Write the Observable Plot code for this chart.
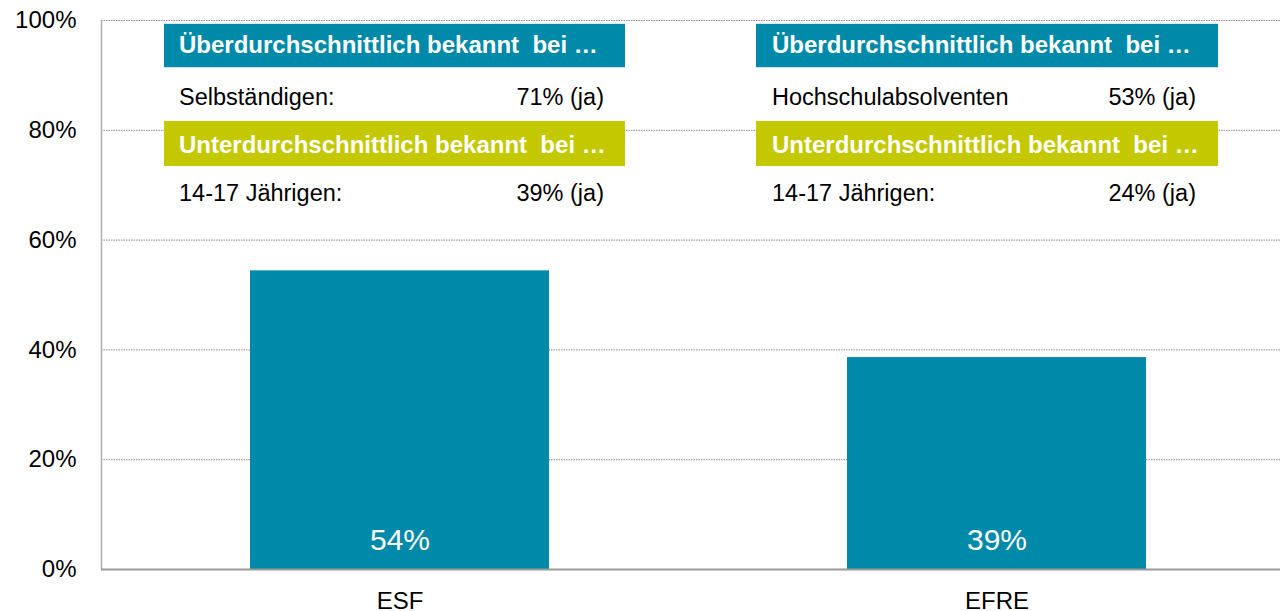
<!DOCTYPE html>
<html>
<head>
<meta charset="utf-8">
<script src="https://cdn.jsdelivr.net/npm/d3@7"></script>
<script src="https://cdn.jsdelivr.net/npm/@observablehq/plot@0.6"></script>
<style>
  html, body { margin: 0; padding: 0; background: #fff; }
  svg text { white-space: pre; }
</style>
</head>
<body>
<div id="chart"></div>
<script>
// ---- data ----
const categories = ["ESF", "EFRE"];
const shares = [54.4, 38.6];
const aboveHeader = "Überdurchschnittlich bekannt  bei …";
const belowHeader = "Unterdurchschnittlich bekannt  bei …";
const aboveGroups = ["Selbständigen:", "Hochschulabsolventen"];
const aboveShares = [71, 53];
const belowGroups = ["14-17 Jährigen:", "14-17 Jährigen:"];
const belowShares = [39, 24];
const yTicks = [0, 20, 40, 60, 80, 100];

// ---- styling / layout ----
const teal = "#0089a8";
const lime = "#c3c800";
const font = "'Liberation Sans', Arial, sans-serif";
// annotation panel layout in y-scale units, offsets in px relative to the bar band
const panel = {
  aboveBox: [91.4, 99.3], aboveHead: 95.4, aboveRow: 86.0,
  belowBox: [73.4, 81.6], belowHead: 77.3, belowRow: 68.5
};
const offsets = {
  ESF:  {insetLeft: -86, insetRight: -76, dxStart: -221, dxEnd: 204},
  EFRE: {insetLeft: -91, insetRight: -72, dxStart: -225, dxEnd: 199}
};

const rows = categories.map((cat, i) => ({
  cat, value: shares[i],
  aboveGroup: aboveGroups[i], aboveShare: aboveShares[i],
  belowGroup: belowGroups[i], belowShare: belowShares[i]
}));

const panelMarks = categories.flatMap(cat => {
  const o = offsets[cat];
  const only = d => d.cat === cat;
  return [
    Plot.barY(rows, {filter: only, x: "cat", y1: () => panel.aboveBox[0], y2: () => panel.aboveBox[1],
      fill: teal, insetLeft: o.insetLeft, insetRight: o.insetRight}),
    Plot.barY(rows, {filter: only, x: "cat", y1: () => panel.belowBox[0], y2: () => panel.belowBox[1],
      fill: lime, insetLeft: o.insetLeft, insetRight: o.insetRight}),
    Plot.text(rows, {filter: only, x: "cat", y: () => panel.aboveHead, text: () => aboveHeader,
      dx: o.dxStart, textAnchor: "start", fill: "white", fontWeight: "bold", fontSize: 24}),
    Plot.text(rows, {filter: only, x: "cat", y: () => panel.belowHead, text: () => belowHeader,
      dx: o.dxStart, textAnchor: "start", fill: "white", fontWeight: "bold", fontSize: 24}),
    Plot.text(rows, {filter: only, x: "cat", y: () => panel.aboveRow, text: "aboveGroup",
      dx: o.dxStart, textAnchor: "start", fill: "black", fontSize: 23.5}),
    Plot.text(rows, {filter: only, x: "cat", y: () => panel.aboveRow, text: d => d.aboveShare + "% (ja)",
      dx: o.dxEnd, textAnchor: "end", fill: "black", fontSize: 23.5}),
    Plot.text(rows, {filter: only, x: "cat", y: () => panel.belowRow, text: "belowGroup",
      dx: o.dxStart, textAnchor: "start", fill: "black", fontSize: 23.5}),
    Plot.text(rows, {filter: only, x: "cat", y: () => panel.belowRow, text: d => d.belowShare + "% (ja)",
      dx: o.dxEnd, textAnchor: "end", fill: "black", fontSize: 23.5})
  ];
});

const chart = Plot.plot({
  width: 1280,
  height: 611,
  marginLeft: 101,
  marginRight: 0,
  marginTop: 20,
  marginBottom: 42,
  style: {fontFamily: font, background: "#fff", color: "#000", overflow: "visible"},
  x: {domain: categories, range: [101, 1295], paddingInner: 0.5, paddingOuter: 0.25, axis: null},
  y: {domain: [0, 100], axis: null},
  marks: [
    Plot.gridY(yTicks, {stroke: "#8a8a8a", strokeOpacity: 1, strokeWidth: 1, strokeDasharray: "1.5,1"}),
    Plot.frame({anchor: "left", stroke: "#b0b0b0", strokeWidth: 1.5}),
    Plot.barY(rows, {x: "cat", y: "value", fill: teal}),
    Plot.ruleY([0], {stroke: "#9a9a9a", strokeWidth: 2}),
    Plot.text(rows, {x: "cat", y: () => 0, dy: -29, text: d => Math.round(d.value) + "%",
      fill: "white", fontSize: 30}),
    ...panelMarks,
    Plot.axisY(yTicks, {tickSize: 0, tickPadding: 25, fontSize: 24, tickFormat: d => d + "%", fill: "black", label: null}),
    Plot.axisX({tickSize: 0, tickPadding: 22, fontSize: 24, fill: "black", label: null})
  ]
});
document.getElementById("chart").append(chart);
</script>
</body>
</html>
